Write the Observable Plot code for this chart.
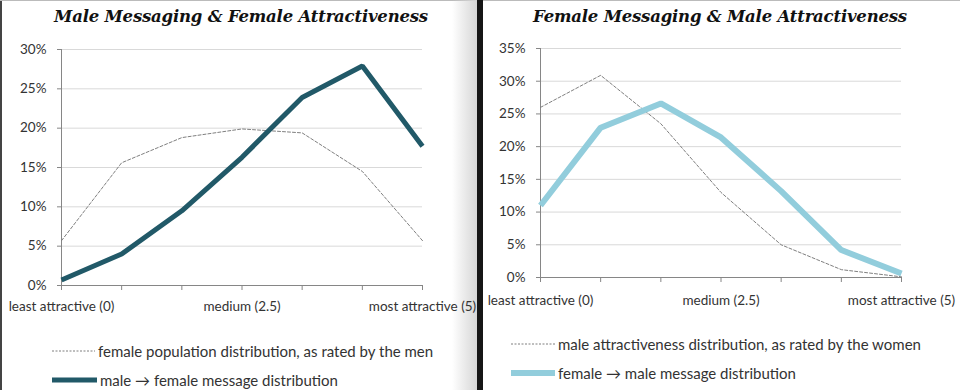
<!DOCTYPE html>
<html><head><meta charset="utf-8">
<script src="https://cdn.jsdelivr.net/npm/d3@7"></script>
<script src="https://cdn.jsdelivr.net/npm/@observablehq/plot@0.6"></script>
<style>
html,body{margin:0;padding:0}
body{width:960px;height:390px;overflow:hidden;background:#fff;position:relative;font-family:Lato,sans-serif;color:#333}
.abs{position:absolute}
.title{font-family:"DejaVu Serif",serif;font-weight:bold;font-style:italic;font-size:16.5px;color:#111;text-align:center;top:7px;letter-spacing:-0.2px}
.leg{display:flex;align-items:center;height:20px;font-size:15px;color:#333;white-space:nowrap}
.leg svg{flex:none;margin-right:3px}
.chart svg{font-family:Lato,sans-serif !important;font-size:13.5px !important}
.chart svg text{font-size:13.5px !important}
</style></head>
<body>
<div class="abs" style="left:0;top:0;width:2px;height:390px;background:#444"></div>
<div class="abs" style="left:0;top:0;width:477px;height:1px;background:#bbb"></div>
<div class="abs" style="left:452px;top:0;width:25px;height:390px;background:linear-gradient(to right,rgba(255,255,255,0),#d6d6d6)"></div>
<div class="abs" style="left:477px;top:0;width:6px;height:390px;background:#151515"></div>
<div class="abs" style="left:483px;top:0;width:477px;height:1px;background:#bbb"></div>

<div class="abs title" id="t1" style="left:0;width:482px">Male Messaging &amp; Female Attractiveness</div>
<div class="abs title" id="t2" style="left:483px;width:474px">Female Messaging &amp; Male Attractiveness</div>

<div class="abs chart" id="c1" style="left:0;top:35px"></div>
<div class="abs chart" id="c2" style="left:483px;top:35px"></div>

<div class="abs" id="l1" style="left:52px;top:341px"></div>
<div class="abs" id="l2" style="left:511px;top:334px"></div>

<script>
// attractiveness rating of each category (0 = least, 5 = most)
const ratings = [0, 0.833, 1.667, 2.5, 3.333, 4.167, 5];
const labelTicks = [0, 2.5, 5];
const labelTexts = ["least attractive (0)", "medium (2.5)", "most attractive (5)"];
const yTicksLeft = [0, 5, 10, 15, 20, 25, 30];
const yTicksRight = [0, 5, 10, 15, 20, 25, 30, 35];

// left chart (percent)
const femalePopulation = [5.7, 15.6, 18.8, 19.9, 19.4, 14.5, 5.7];
const maleToFemale = [0.7, 4.0, 9.5, 16.3, 23.9, 27.9, 17.7];
// right chart (percent)
const maleAttractiveness = [26.0, 30.9, 23.5, 13.0, 5.0, 1.2, 0.1];
const femaleToMale = [11.0, 22.9, 26.6, 21.4, 13.2, 4.2, 0.6];

const names = {
  femalePopulation: "female population  distribution, as rated by the men",
  maleToFemale: "male \u2192 female message  distribution",
  maleAttractiveness: "male attractiveness distribution, as rated by the women",
  femaleToMale: "female \u2192 male message distribution"
};
const darkTeal = "#215968", lightBlue = "#92cddc", dashGray = "#7f7f7f";

function chart(o) {
  const dash = ratings.map((r, i) => ({r, v: o.dashed[i]}));
  const sol = ratings.map((r, i) => ({r, v: o.solid[i]}));
  return Plot.plot({
    width: o.width, height: o.height,
    marginLeft: o.ml, marginRight: o.mr, marginTop: o.mt, marginBottom: o.mb,
    style: {fontFamily: "Lato, sans-serif", fontSize: "13.5px", color: "#333", background: "transparent", overflow: "visible"},
    x: {domain: [0, 5]},
    y: {domain: [0, o.yTicks[o.yTicks.length - 1]]},
    marks: [
      Plot.gridY(o.yTicks, {stroke: "#d9d9d9", strokeOpacity: 1}),
      Plot.axisY(o.yTicks, {tickFormat: d => d + "%", tickSize: 4, tickPadding: 11, stroke: "#868686", label: null}),
      Plot.axisX(ratings, {tickSize: 5, tickFormat: () => "", stroke: "#868686", label: null}),
      Plot.axisX(labelTicks, {tickSize: 0, tickPadding: o.xpad, tickFormat: d => labelTexts[labelTicks.indexOf(d)], label: null}),
      Plot.ruleX([0], {stroke: "#868686"}),
      Plot.ruleY([0], {stroke: "#868686"}),
      Plot.line(dash, {x: "r", y: "v", stroke: dashGray, strokeWidth: 1, strokeDasharray: "3,2"}),
      Plot.line(sol, {x: "r", y: "v", stroke: o.color, strokeWidth: o.sw, strokeLinejoin: "miter", strokeLinecap: "butt"})
    ]
  });
}

document.getElementById("c1").append(chart({
  width: 477, height: 290, ml: 61, mr: 55, mt: 14, mb: 40, xpad: 16,
  yTicks: yTicksLeft, dashed: femalePopulation, solid: maleToFemale, color: darkTeal, sw: 5
}));
document.getElementById("c2").append(chart({
  width: 477, height: 290, ml: 57, mr: 59, mt: 13, mb: 48, xpad: 18,
  yTicks: yTicksRight, dashed: maleAttractiveness, solid: femaleToMale, color: lightBlue, sw: 6
}));

function legend(el, items) {
  const root = document.getElementById(el);
  items.forEach((it, i) => {
    const row = document.createElement("div");
    row.className = "leg";
    row.style.marginBottom = i === 0 ? "9px" : "0";
    row.innerHTML = `<svg width="${it.w}" height="20"><line x1="0" x2="${it.w}" y1="10" y2="10" stroke="${it.color}" stroke-width="${it.sw}" ${it.dash ? 'stroke-dasharray="2,1.5"' : 'stroke-linecap="round"'}/></svg><span>${it.label}</span>`;
    root.append(row);
  });
}
legend("l1", [
  {label: names.femalePopulation, color: dashGray, sw: 1, dash: true, w: 43},
  {label: names.maleToFemale, color: darkTeal, sw: 5, dash: false, w: 45}
]);
legend("l2", [
  {label: names.maleAttractiveness, color: dashGray, sw: 1, dash: true, w: 44},
  {label: names.femaleToMale, color: lightBlue, sw: 6, dash: false, w: 44}
]);
</script>
</body></html>
